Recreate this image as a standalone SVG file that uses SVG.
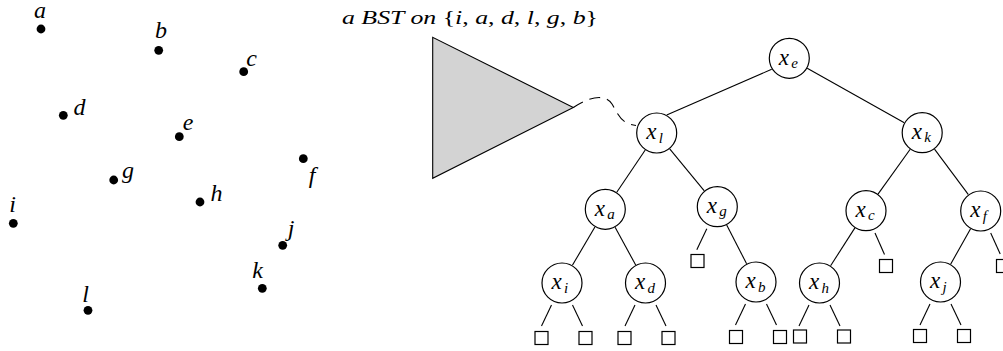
<svg xmlns="http://www.w3.org/2000/svg" width="1003" height="351" viewBox="0 0 1003 351">
<style>
.pt{fill:#000}
.pl{font-family:"Liberation Serif","Times New Roman",serif;font-style:italic;font-size:24px;text-anchor:middle;fill:#000}
.nc{fill:#fff;stroke:#000;stroke-width:1.2}
.nx{font-family:"Liberation Serif","Times New Roman",serif;font-style:italic;font-size:23px;fill:#000}
.sub{font-size:15px}
.lf{fill:#fff;stroke:#000;stroke-width:1.2}
.ed{stroke:#000;stroke-width:1.1;fill:none}
.ttl{font-family:"Liberation Serif","Times New Roman",serif;font-size:19px;fill:#000}
.it{font-style:italic}
</style>
<rect width="1003" height="351" fill="#fff"/>

<g id="points">
<g id="pa"><circle class="pt" cx="41" cy="29" r="4.4"/><text class="pl" x="40" y="18">a</text></g>
<g id="pb"><circle class="pt" cx="158.7" cy="50.3" r="4.4"/><text class="pl" x="161" y="38">b</text></g>
<g id="pc"><circle class="pt" cx="243.7" cy="71.7" r="4.4"/><text class="pl" x="251.5" y="66">c</text></g>
<g id="pd"><circle class="pt" cx="63.3" cy="115.3" r="4.4"/><text class="pl" x="79.5" y="115">d</text></g>
<g id="pe"><circle class="pt" cx="179.3" cy="136.7" r="4.4"/><text class="pl" x="188" y="129.5">e</text></g>
<g id="pf"><circle class="pt" cx="303.3" cy="158.7" r="4.4"/><text class="pl" x="312" y="183">f</text></g>
<g id="pg"><circle class="pt" cx="113.7" cy="180" r="4.4"/><text class="pl" x="128" y="178">g</text></g>
<g id="ph"><circle class="pt" cx="200" cy="202" r="4.4"/><text class="pl" x="216.5" y="200.5">h</text></g>
<g id="pi"><circle class="pt" cx="13.3" cy="223.3" r="4.4"/><text class="pl" x="12.5" y="211.5">i</text></g>
<g id="pj"><circle class="pt" cx="282.7" cy="245.3" r="4.4"/><text class="pl" x="291" y="236">j</text></g>
<g id="pk"><circle class="pt" cx="262.3" cy="288.3" r="4.4"/><text class="pl" x="257.5" y="278">k</text></g>
<g id="pl"><circle class="pt" cx="88" cy="310.3" r="4.4"/><text class="pl" x="85.5" y="301.5">l</text></g>
</g>

<g id="title">
<text class="ttl" x="342" y="24" textLength="256" lengthAdjust="spacingAndGlyphs"><tspan class="it">a BST on </tspan>{<tspan class="it">i</tspan>, <tspan class="it">a</tspan>, <tspan class="it">d</tspan>, <tspan class="it">l</tspan>, <tspan class="it">g</tspan>, <tspan class="it">b</tspan>}</text>
</g>

<g id="subtree">
<polygon points="432.7,37.3 432.7,178.3 573.3,107.5" fill="#d3d3d3" stroke="#000" stroke-width="1.1"/>
</g>

<g id="connectors">
<path class="ed" d="M573.3,107.5 C590,96 606,94 612,104 S621,124 636,125.5" stroke-dasharray="11 7"/>
<line class="ed" x1="771.7" y1="69.3" x2="666.7" y2="115"/>
<line class="ed" x1="807.2" y1="68.3" x2="904.3" y2="122.7"/>
<line class="ed" x1="645.25" y1="150" x2="616.75" y2="192.3"/>
<line class="ed" x1="669.7" y1="148.8" x2="704.3" y2="190.9"/>
<line class="ed" x1="910.2" y1="149.3" x2="878" y2="194.1"/>
<line class="ed" x1="934.5" y1="149.1" x2="968.4" y2="194.6"/>
<line class="ed" x1="594.9" y1="227" x2="572.4" y2="265.3"/>
<line class="ed" x1="615.1" y1="227.3" x2="635.7" y2="265"/>
<line class="ed" x1="726.7" y1="224.9" x2="746.6" y2="263.8"/>
<line class="ed" x1="854.9" y1="227.9" x2="830.6" y2="265.8"/>
<line class="ed" x1="970.6" y1="228.8" x2="950.6" y2="264.2"/>
<line class="ed" x1="551.5" y1="305" x2="541.5" y2="326"/>
<line class="ed" x1="572.5" y1="305" x2="582.5" y2="326"/>
<line class="ed" x1="635" y1="305" x2="625" y2="326"/>
<line class="ed" x1="656" y1="305" x2="666" y2="326"/>
<line class="ed" x1="706.8" y1="228.7" x2="696.8" y2="249.7"/>
<line class="ed" x1="745.5" y1="304" x2="735.5" y2="325"/>
<line class="ed" x1="766.5" y1="304" x2="776.5" y2="325"/>
<line class="ed" x1="809" y1="305" x2="799" y2="326"/>
<line class="ed" x1="830" y1="305" x2="840" y2="326"/>
<line class="ed" x1="875" y1="233" x2="884.5" y2="254.5"/>
<line class="ed" x1="930" y1="304" x2="920" y2="325"/>
<line class="ed" x1="951" y1="304" x2="961" y2="325"/>
<line class="ed" x1="990.7" y1="233" x2="1000.2" y2="254"/>
</g>

<g id="xe"><circle class="nc" cx="789.3" cy="58.3" r="20"/><text class="nx" x="778.8" y="64.5">x<tspan class="sub" x="791.3" dy="3.5">e</tspan></text></g>
<g id="xl"><circle class="nc" cx="656.7" cy="133" r="20"/><text class="nx" x="646.2" y="139.2">x<tspan class="sub" x="658.7" dy="3.5">l</tspan></text></g>
<g id="xk"><circle class="nc" cx="922.2" cy="132.7" r="20"/><text class="nx" x="911.7" y="138.9">x<tspan class="sub" x="924.2" dy="3.5">k</tspan></text></g>
<g id="xa"><circle class="nc" cx="605.3" cy="209.3" r="20"/><text class="nx" x="594.8" y="215.5">x<tspan class="sub" x="607.3" dy="3.5">a</tspan></text></g>
<g id="xg"><circle class="nc" cx="717.3" cy="206.7" r="20"/><text class="nx" x="706.8" y="212.9">x<tspan class="sub" x="719.3" dy="3.5">g</tspan></text></g>
<g id="xc"><circle class="nc" cx="866" cy="210.7" r="20"/><text class="nx" x="855.5" y="216.9">x<tspan class="sub" x="868" dy="3.5">c</tspan></text></g>
<g id="xf"><circle class="nc" cx="980.7" cy="211" r="20"/><text class="nx" x="970.2" y="217.2">x<tspan class="sub" x="982.7" dy="3.5">f</tspan></text></g>
<g id="xi"><circle class="nc" cx="562" cy="283" r="20"/><text class="nx" x="551.5" y="289.2">x<tspan class="sub" x="564" dy="3.5">i</tspan></text></g>
<g id="xd"><circle class="nc" cx="645.5" cy="283" r="20"/><text class="nx" x="635" y="289.2">x<tspan class="sub" x="647.5" dy="3.5">d</tspan></text></g>
<g id="xb"><circle class="nc" cx="756" cy="282" r="20"/><text class="nx" x="745.5" y="288.2">x<tspan class="sub" x="758" dy="3.5">b</tspan></text></g>
<g id="xh"><circle class="nc" cx="819.5" cy="283" r="20"/><text class="nx" x="809" y="289.2">x<tspan class="sub" x="821.5" dy="3.5">h</tspan></text></g>
<g id="xj"><circle class="nc" cx="940.5" cy="282" r="20"/><text class="nx" x="930" y="288.2">x<tspan class="sub" x="942.5" dy="3.5">j</tspan></text></g>

<g id="leaves">
<rect class="lf" x="535" y="331.5" width="13" height="13"/>
<rect class="lf" x="579" y="331.5" width="13" height="13"/>
<rect class="lf" x="618" y="331.5" width="13" height="13"/>
<rect class="lf" x="662" y="331.5" width="13" height="13"/>
<rect class="lf" x="691" y="254.5" width="13" height="13"/>
<rect class="lf" x="729.5" y="330.5" width="13" height="13"/>
<rect class="lf" x="773.5" y="330.5" width="13" height="13"/>
<rect class="lf" x="793.5" y="330" width="13" height="13"/>
<rect class="lf" x="837.5" y="330" width="13" height="13"/>
<rect class="lf" x="879.5" y="259.5" width="13" height="13"/>
<rect class="lf" x="913.5" y="329.5" width="13" height="13"/>
<rect class="lf" x="957.5" y="329.5" width="13" height="13"/>
<rect class="lf" x="996.5" y="259.5" width="13" height="13"/>
</g>
</svg>
